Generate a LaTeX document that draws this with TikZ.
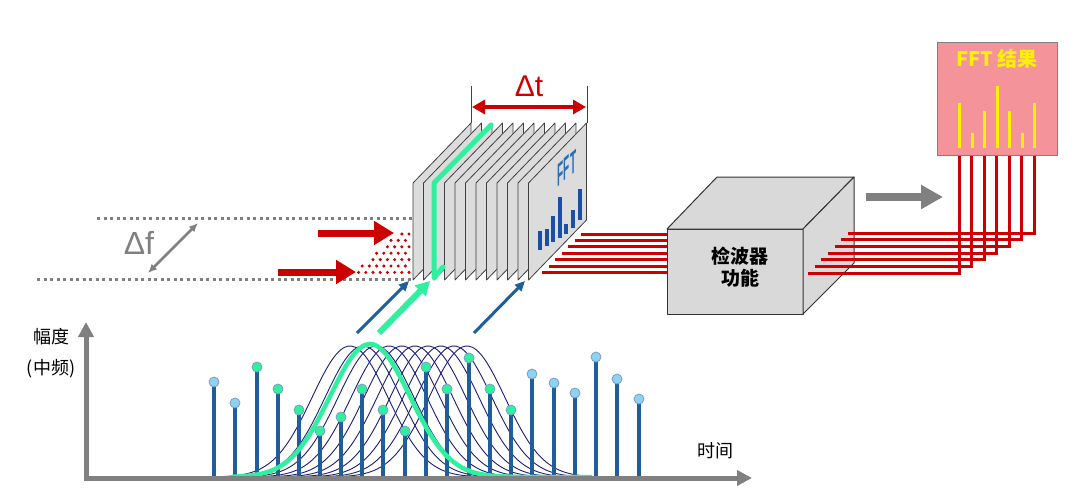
\documentclass[tikz,border=0pt]{standalone}
\usepackage{fontspec}
\setmainfont{Liberation Sans}
\newfontfamily\cjk{Noto Sans CJK SC}
\usetikzlibrary{arrows.meta}
\definecolor{slabgray}{HTML}{DCDCDC}
\definecolor{boxgray}{HTML}{D9D9D9}
\definecolor{fftred}{HTML}{CC0000}
\definecolor{mint}{HTML}{30F0A0}
\definecolor{stemblue}{HTML}{1F5E9B}
\definecolor{lightblue}{HTML}{8ED1F5}
\definecolor{navy}{HTML}{1C1C7A}
\definecolor{fftpink}{HTML}{F5939B}
\definecolor{barblue}{HTML}{1A4FA8}
\definecolor{fftblue}{HTML}{2A6EB5}
\begin{document}
\begin{tikzpicture}[x=1pt,y=-1pt,
    slab/.style={draw=black!75, fill=slabgray, line width=0.8pt, line join=round},
    cube/.style={draw=black!80, fill=boxgray, line width=1pt, line join=round},
    redline/.style={draw=fftred, line width=3pt},
    dots/.style={draw=gray, line width=3pt, dash pattern=on 3pt off 3.5pt},
    bigred/.style={draw=fftred, line width=7pt, -{Triangle[length=20pt,width=23pt]}},
    thinblue/.style={draw=stemblue, line width=3pt, -{Triangle[length=10pt,width=9pt]}},
    axis/.style={draw=gray, line width=5pt, {Triangle[length=15pt,width=15pt]}-{Triangle[length=15pt,width=15pt]}},
    stem/.style={draw=stemblue, line width=4pt},
    zh/.style={font=\cjk\fontsize{18}{22}\selectfont, inner sep=0pt}
  ]
\useasboundingbox (0,0) rectangle (1080,498);

\draw[dots] (97,218) coordinate (ftopa) -- (413,218) coordinate (ftopb);
\draw[dots] (37,279) coordinate (fbota) -- (413,279) coordinate (fbotb);
\node[text=gray, font=\fontsize{32}{34}\selectfont, inner sep=0pt] (df) at (139,243) {Δf};
\coordinate (dfa) at (198,223);
\coordinate (dfb) at (148,273);
\draw[gray, line width=2.5pt, {Latex[length=9pt,width=8pt]}-{Latex[length=9pt,width=8pt]}] (dfa) -- (dfb);

\foreach \i in {0,...,6}{
  \pgfmathtruncatemacro\n{\i+1}
  \foreach \j in {0,...,\n}
    \fill[fftred] ({409-7.2*\j-3.6*mod(\i,2)},{234+6.4*\i}) circle (1.7);
}
\coordinate (ina) at (318,233);
\coordinate (inb) at (394,233);
\coordinate (inc) at (278,272);
\coordinate (ind) at (356,272);
\draw[bigred] (ina) -- (inb);
\draw[bigred] (inc) -- (ind);

\foreach \i in {0,...,6}
  \draw[redline] ({581-6.5*\i},{234+6.4*\i}) -- (667,{234+6.4*\i});

\foreach \k in {0,...,11}
  \draw[slab] ({413+10.5*\k},280) coordinate (s\k) -- ++(0,-97) -- ++(58,-60) -- ++(0,97) -- cycle;
\draw[mint, line width=5pt, line cap=round, line join=round] (443,267) -- (434,278) -- (434,183) -- (491,125);

\node[text=fftblue, font=\bfseries\fontsize{20}{20}\selectfont, transform shape, cm={0.5,0.45,0,1.6,(567,168)}] (fftlabel) at (0,0) {FFT};
\foreach \x/\t/\b in {540/231/250, 547/229/246, 553/216/242, 560/197/238, 566/224/234, 573/210/228, 580/189/220}
  \draw[barblue, line width=3.2pt] (\x,\b) -- (\x,\t);

\draw[black!75, line width=1pt] (471,86) -- (471,123);
\draw[black!75, line width=1pt] (587,86) -- (587,123);
\node[text=fftred, font=\fontsize{30}{32}\selectfont, inner sep=0pt] (dt) at (529,86) {Δt};
\coordinate (dta) at (472,107);
\coordinate (dtb) at (586,107);
\draw[fftred, line width=3.5pt, {Triangle[length=13pt,width=14pt]}-{Triangle[length=13pt,width=14pt]}] (dta) -- (dtb);

\coordinate (upa) at (357,333);
\coordinate (upb) at (409,281);
\coordinate (upc) at (379,333);
\coordinate (upd) at (430,281);
\coordinate (upe) at (474,333);
\coordinate (upf) at (525,281);
\draw[thinblue] (upa) -- (upb);
\draw[mint, line width=6pt, -{Triangle[length=14pt,width=15pt]}] (upc) -- (upd);
\draw[thinblue] (upe) -- (upf);

\draw[cube] (667,229) -- (803,229) -- (803,314) -- (667,314) -- cycle;
\draw[cube] (667,229) -- (717,177) -- (854,177) -- (803,229) -- cycle;
\draw[cube] (803,229) -- (854,177) -- (854,263) -- (803,314) -- cycle;
\node[zh, font=\cjk\bfseries\fontsize{19}{22}\selectfont, align=center] (detector) at (740,267) {检波器\\功能};

\foreach \i in {0,...,6}
  \draw[redline] ({848-6.67*\i},{233+6.67*\i}) -| ({1034-12.5*\i},155);

\node[draw=gray, fill=fftpink, line width=1pt, minimum width=120pt, minimum height=113pt, anchor=north west] (fftbox) at (937,42) {};
\node[text=yellow, font=\cjk\bfseries\fontsize{20}{22}\selectfont, inner sep=0pt] (ffttitle) at (997,59) {FFT 结果};
\foreach \x/\t in {959/103, 972/133, 984/111, 997/86, 1009/111, 1022/133, 1034/103}
  \draw[yellow, line width=3pt] (\x,148) -- (\x,\t);

\coordinate (outa) at (866,197);
\coordinate (outb) at (943,197);
\draw[gray, line width=7.5pt, -{Triangle[length=22pt,width=23pt]}] (outa) -- (outb);

\foreach \m in {350,363,...,470}
  \draw[navy, line width=0.9pt] plot[domain=\m-125:\m+125, samples=70, smooth] (\x,{477-131*exp(-0.5*((\x-\m)/38)^2)});

\foreach \x/\t/\c in {214/382/lightblue, 235/403/lightblue, 257/367/mint, 278/389/mint, 299/410/mint, 320/431/mint, 341/417/mint, 362/389/mint, 383/410/mint, 405/431/mint, 426/367/mint, 447/389/mint, 469/358/mint, 490/389/mint, 511/410/mint, 532/374/lightblue, 554/383/lightblue, 575/393/lightblue, 596/357/lightblue, 617/379/lightblue, 639/399/lightblue}{
  \draw[stem] (\x,477) -- (\x,\t);
  \filldraw[fill=\c, draw=stemblue!60, line width=0.8pt] (\x,\t) circle (5);
}
\draw[mint, line width=4.5pt] plot[domain=232:592, samples=90, smooth] (\x,{477-133*exp(-0.5*((\x-370)/40)^2)});

\coordinate (origin) at (86,478);
\coordinate (yend) at (86,322);
\coordinate (xend) at (752,478);
\draw[axis] (yend) -- (origin) -- (xend);
\node[zh] (amp) at (51,337) {幅度};
\node[zh] (ifreq) at (51,369) {(中频)};
\node[zh] (time) at (715,451) {时间};
\end{tikzpicture}
\end{document}
